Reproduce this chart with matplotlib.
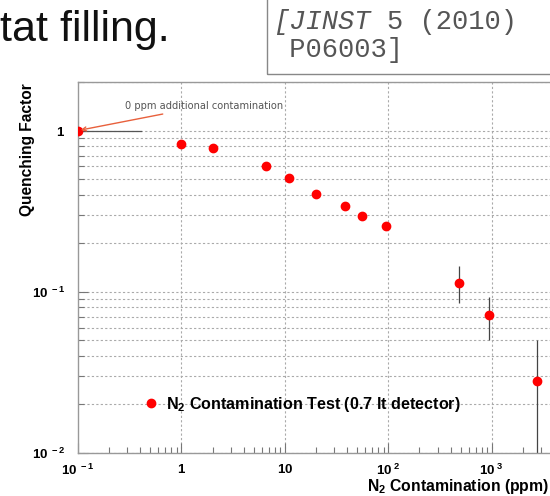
import matplotlib
matplotlib.use("Agg")
import matplotlib.pyplot as plt
from matplotlib.ticker import FixedLocator, LogLocator, NullFormatter, FixedFormatter

# N2 contamination (ppm) vs quenching factor
ppm = [0.1, 1, 2, 6.5, 11, 20, 38, 56, 95, 480, 950, 2750]
qf = [1.0, 0.83, 0.78, 0.60, 0.505, 0.405, 0.34, 0.295, 0.257, 0.114, 0.072, 0.028]
err_lo = [0, 0, 0, 0, 0, 0, 0, 0, 0, 0.029, 0.022, 0.027]
err_hi = [0, 0, 0, 0, 0, 0, 0, 0, 0, 0.031, 0.021, 0.022]

x_ticks = [0.1, 1, 10, 100, 1000]
x_labels = [r'$\mathbf{10^{\ -1}}$', r'$\mathbf{1}$', r'$\mathbf{10}$',
            r'$\mathbf{10^{\ 2}}$', r'$\mathbf{10^{\ 3}}$']
y_ticks = [0.01, 0.1, 1]
y_labels = [r'$\mathbf{10^{\ -2}}$', r'$\mathbf{10^{\ -1}}$', r'$\mathbf{1}$']

plt.rcParams['font.family'] = ['Liberation Sans', 'DejaVu Sans']
plt.rcParams['mathtext.fontset'] = 'custom'
plt.rcParams['mathtext.rm'] = 'Liberation Sans'
plt.rcParams['mathtext.bf'] = 'Liberation Sans:bold'

fig = plt.figure(figsize=(5.5, 4.96), dpi=100)
W, H = 550.0, 496.0
ax = fig.add_axes([78 / W, (496 - 453) / H, 486 / W, 371 / H])
ax.set_xscale('log')
ax.set_yscale('log')
ax.set_xlim(0.1, 5000)
ax.set_ylim(0.01, 2.0)

grid_kw = dict(color='#aaaaaa', linestyle=(0, (2, 2)), linewidth=0.8)
for xv in x_ticks[1:]:
    ax.axvline(xv, **grid_kw, zorder=0)
ax.yaxis.set_major_locator(FixedLocator(y_ticks))
ax.yaxis.set_minor_locator(LogLocator(base=10, subs=range(2, 10), numticks=20))
ax.grid(True, axis='y', which='both', **grid_kw)
ax.set_axisbelow(True)

ax.xaxis.set_major_locator(FixedLocator(x_ticks))
ax.xaxis.set_major_formatter(FixedFormatter(x_labels))
ax.xaxis.set_minor_locator(LogLocator(base=10, subs=range(2, 10), numticks=20))
ax.xaxis.set_minor_formatter(NullFormatter())
ax.yaxis.set_major_formatter(FixedFormatter(y_labels))
ax.yaxis.set_minor_formatter(NullFormatter())

ax.tick_params(which='both', direction='in', colors='#777777', labelcolor='black',
               labelsize=9.5, top=False, right=False)
ax.tick_params(which='major', length=7, width=0.8)
ax.tick_params(which='minor', length=4, width=0.8)
ax.tick_params(axis='x', pad=7)
ax.tick_params(axis='y', pad=9)
for s in ax.spines.values():
    s.set_color('#999999')
    s.set_linewidth(1.0)

ax.errorbar(ppm, qf, yerr=[err_lo, err_hi], fmt='none', ecolor='#444444',
            elinewidth=0.9, capsize=0, zorder=2)
ax.plot(ppm, qf, 'o', color='red', markersize=6, zorder=3,
        label=r'N$_\mathbf{2}$ Contamination Test (0.7 lt detector)')

# grey stub line and arrow for the reference point
ax.plot([0.1, 0.41], [1.0, 1.0], color='#555555', linewidth=0.9, zorder=2)
ax.annotate('0 ppm additional contamination', xy=(0.1, 1.0),
            xytext=(125, 496 - 106), textcoords='figure pixels',
            fontsize=7.1, family='DejaVu Sans', color='#555555', va='center',
            ha='left',
            arrowprops=dict(arrowstyle='->', color='#e8603c', lw=1.0,
                            shrinkA=1, shrinkB=2))

leg = ax.legend(loc='center left', bbox_to_anchor=(127 / W, (496 - 404) / H),
                bbox_transform=fig.transFigure, frameon=False, handletextpad=0.3,
                handlelength=1.2, prop=dict(weight='bold', size=11.6))

fig.text(28 / W, (496 - 83) / H, 'Quenching Factor', rotation=90, ha='center',
         va='top', fontsize=11.2, fontweight='bold')
fig.text(549 / W, (496 - 486) / H, r'N$_\mathbf{2}$ Contamination (ppm)', ha='right',
         va='center', fontsize=11.3, fontweight='bold')

fig.text(0 / W, (496 - 30) / H, 'tat filling.', fontsize=31, ha='left',
         va='center', color='#111111')

mono = dict(family='Liberation Mono', fontsize=19.5, va='center', color='#555555')
fig.text(273 / W, (496 - 22) / H, '[JINST', style='italic', ha='left', **mono)
fig.text(387 / W, (496 - 22) / H, '5 (2010)', ha='left', **mono)
fig.text(273 / W, (496 - 50) / H, ' P06003]', ha='left', **mono)
fig.patches.append(plt.Rectangle((267 / W, (496 - 74) / H), 300 / W, 80 / H,
                                 transform=fig.transFigure, fill=False,
                                 edgecolor='#888888', linewidth=1.0))

fig.savefig('out.png', dpi=100)
